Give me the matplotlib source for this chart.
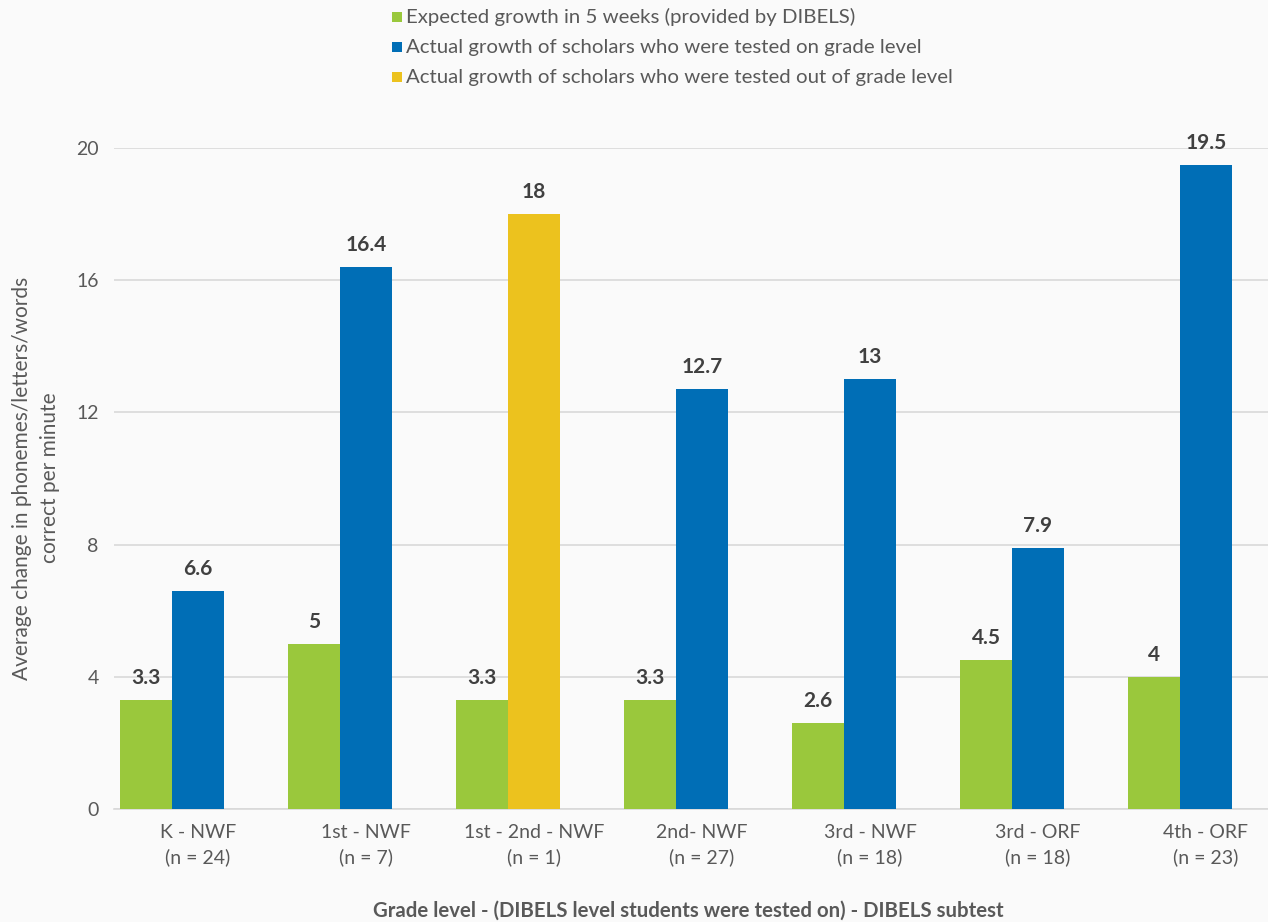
import matplotlib
matplotlib.use("Agg")
import matplotlib.pyplot as plt
from matplotlib.patches import Rectangle

plt.rcParams['font.family'] = ['Lato', 'DejaVu Sans']

categories = ["K - NWF\n(n = 24)", "1st - NWF\n(n = 7)", "1st - 2nd - NWF\n(n = 1)",
              "2nd- NWF\n(n = 27)", "3rd - NWF\n(n = 18)", "3rd - ORF\n(n = 18)",
              "4th - ORF\n(n = 23)"]
expected = [3.3, 5, 3.3, 3.3, 2.6, 4.5, 4]
actual = [6.6, 16.4, 18, 12.7, 13, 7.9, 19.5]
out_of_level = [False, False, True, False, False, False, False]
value_labels_expected = ["3.3", "5", "3.3", "3.3", "2.6", "4.5", "4"]
value_labels_actual = ["6.6", "16.4", "18", "12.7", "13", "7.9", "19.5"]
legend_labels = ["Expected growth in 5 weeks (provided by DIBELS)",
                 "Actual growth of scholars who were tested on grade level",
                 "Actual growth of scholars who were tested out of grade level"]
yticks = [0, 4, 8, 12, 16, 20]

GREEN = "#9AC83C"
BLUE = "#006EB6"
YELLOW = "#ECC21E"
BG = "#FAFAFA"
GRID = "#D9D9D9"
TXT = "#595959"
LBL = "#404040"

W, H = 1268, 922
fig = plt.figure(figsize=(W / 100, H / 100), dpi=100, facecolor=BG)
ax = fig.add_axes([114 / W, (H - 809) / H, 1176 / W, 661 / H])
ax.set_facecolor(BG)

bw = 52 / 168
x = list(range(len(categories)))
ax.bar([i - bw / 2 for i in x], expected, width=bw, color=GREEN, zorder=3)
ax.bar([i + bw / 2 for i in x], actual, width=bw,
       color=[YELLOW if o else BLUE for o in out_of_level], zorder=3)

for i in x:
    ax.annotate(value_labels_expected[i], (i - bw / 2, expected[i]), xytext=(0, 11.5),
                textcoords="offset points", ha="center", va="baseline",
                fontsize=15, fontweight="bold", color=LBL, annotation_clip=False)
    ax.annotate(value_labels_actual[i], (i + bw / 2, actual[i]), xytext=(0, 11.5),
                textcoords="offset points", ha="center", va="baseline",
                fontsize=15, fontweight="bold", color=LBL, annotation_clip=False)

ax.set_xlim(-0.5 + bw / 2, 6.5 + bw / 2)
ax.set_ylim(0, 20)
ax.set_yticks(yticks)
ax.set_yticklabels([str(t) for t in yticks], fontsize=14, color=TXT)
ax.set_xticks([i + bw / 2 for i in x])
ax.set_xticklabels(categories, fontsize=14, color=TXT, linespacing=1.5)
ax.tick_params(axis='both', length=0)
ax.tick_params(axis='y', pad=11)
ax.tick_params(axis='x', pad=11)
ax.grid(axis='y', color=GRID, linewidth=1.2, zorder=0)
for s in ['top', 'right', 'left']:
    ax.spines[s].set_visible(False)
ax.spines['bottom'].set_color(GRID)
ax.spines['bottom'].set_linewidth(1.2)

fig.text(36 / W, 1 - 478 / H, "Average change in phonemes/letters/words\ncorrect per minute",
         rotation=90, ha="center", va="center", fontsize=15, color=TXT, linespacing=1.55)
fig.text(688 / W, 1 - 911 / H, "Grade level - (DIBELS level students were tested on) - DIBELS subtest",
         ha="center", va="center", fontsize=14.7, fontweight="bold", color=TXT)

# legend drawn manually
colors = [GREEN, BLUE, YELLOW]
row_y = [17, 47, 77]
for lab, col, ry in zip(legend_labels, colors, row_y):
    fig.patches.append(Rectangle((392 / W, 1 - (ry + 5) / H), 10 / W, 10 / H,
                                 transform=fig.transFigure, facecolor=col, edgecolor='none'))
    fig.text(406 / W, 1 - ry / H, lab, ha="left", va="center", fontsize=14.7, color=TXT)

fig.savefig("out.png", dpi=100, facecolor=BG)
